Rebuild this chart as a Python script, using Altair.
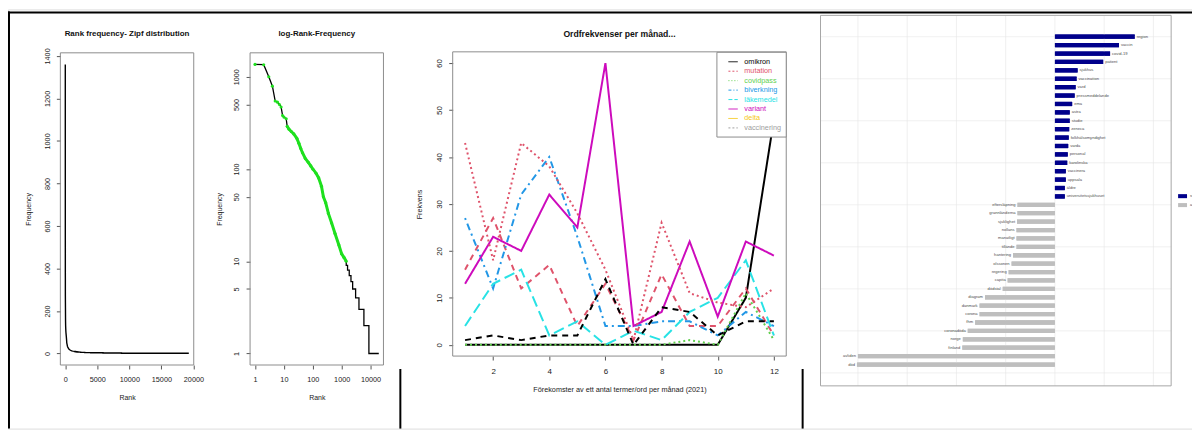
import altair as alt
import pandas as pd

# ---------------- page / layout ----------------
W, H = 1192, 422          # whole view (page minus 8px margin)
FONT = "Liberation Sans"
TXT = "#222222"
TICKC = "#555555"
BOX = "#8c8c8c"

# ---------------- Panel A data (rank / frequency) ----------------
zipf_rank = [1, 2, 3, 4, 5, 6, 7, 8, 9, 10,
             12, 13, 15, 18, 22, 28, 33, 38, 44, 55,
             70, 85, 100, 130, 160, 200, 233, 280, 347, 450,
             588, 800, 1000, 1200, 1440,
             1441, 1600, 1601, 1830, 1831, 2100, 2101, 2400, 2401, 3040,
             3041, 3970, 3971, 5890, 5891, 8770, 8771, 19280]
zipf_freq = [1360, 1350, 1000, 790, 545, 530, 500, 470, 380, 365,
             350, 290, 270, 255, 240, 215, 190, 168, 150, 130,
             118, 108, 100, 90, 80, 65, 50, 43, 33, 26,
             20, 15, 12, 11, 10,
             9, 9, 8, 8, 7, 7, 6, 6, 5, 5,
             4, 4, 3, 3, 2, 2, 1, 1]
a1_xticks = [0, 5000, 10000, 15000, 20000]
a1_yticks = [0, 200, 400, 600, 800, 1000, 1200, 1400]
a2_xticks = [1, 10, 100, 1000, 10000]
a2_yticks = [1, 5, 10, 50, 100, 500, 1000]

# ---------------- Panel B data (word frequency per month) ----------------
months = list(range(1, 13))
series_names = ["omikron", "mutation", "covidpass", "biverkning",
                "läkemedel", "variant", "delta", "vaccinering"]
omikron     = [0, 0, 0, 0, 0, 0, 0, 0, 0, 0, 10, 48]
mutation    = [16, 27, 12, 17, 4, 13, 1, 15, 4, 4, 12, 2]
covidpass   = [0, 0, 0, 0, 0, 0, 0, 0, 1, 0, 11, 1]
biverkning  = [27, 12, 32, 40, 23, 4, 4, 5, 5, 2, 7, 4]
lakemedel   = [4, 13, 16, 2, 5, 0, 3, 1, 7, 10, 18, 2]
variant     = [13, 23, 20, 32, 25, 60, 4, 7, 22, 6, 22, 19]
delta       = [1, 2, 1, 2, 2, 14, 0, 8, 7, 2, 5, 5]
vaccinering = [43, 18, 43, 38, 28, 16, 1, 26, 11, 9, 8, 12]
b_values = [omikron, mutation, covidpass, biverkning, lakemedel, variant, delta, vaccinering]
b_xticks = [2, 4, 6, 8, 10, 12]
b_yticks = [0, 10, 20, 30, 40, 50, 60]

# styles (R matplot default cycling of col 1:6 and lty 1:5)
line_colors = ["#000000", "#DF536B", "#61D04F", "#2297E6", "#28E2E5", "#CD0BBC", "#000000", "#DF536B"]
line_dashes = [[1, 0], [6, 5], [2, 3], [2, 4, 7, 4], [11, 5], [1, 0], [6, 5], [2, 3]]
legend_colors = ["#000000", "#DF536B", "#61D04F", "#2297E6", "#28E2E5", "#CD0BBC", "#F5C710", "#9E9E9E"]
legend_dashes = [[1, 0], [2, 2], [1, 2], [3, 2, 1, 2], [4, 2], [1, 0], [1, 0], [2, 2]]

# ---------------- Panel C data (keyness, chi2) ----------------
pos_words = ["region", "vaccin", "covid-19", "patient", "sjukhus", "vaccination", "vård",
             "pressmeddelande", "ema", "astra", "studie", "zeneca", "folkhälsomyndighet",
             "vårda", "personal", "karolinska", "vaccinera", "uppsala", "äldre",
             "universitetssjukhuset"]
pos_chi2 = [81, 65, 56, 49, 23, 22, 21, 20, 17.5, 15, 15, 14.5, 14, 13.5, 13, 12.5, 11, 11, 10, 10]
neg_words = ["eftersläpning", "grannländerna", "sjuklighet", "nollans", "månatligt", "tillände",
             "hantering", "olssonen", "regering", "capita", "dödstal", "diagram", "danmark",
             "corona", "fhm", "coronadöda", "norge", "finland", "avliden", "död"]
neg_chi2 = [-38, -38, -38.5, -39, -39, -39, -42.5, -44, -47, -48, -53, -71, -76.5,
            -76.5, -81, -88.5, -93.5, -94, -200, -201]
key_groups = ["svenska", "andra"]
c_xticks = [-200, -100, 0, 100]
c_grid_x = [-200, -150, -100, -50, 0, 50, 100]
c_grid_y = [0, 5, 10, 15, 20, 25, 30, 35, 40]

# ---------------- tables ----------------
zipf_df = pd.DataFrame({"rank": zipf_rank, "freq": zipf_freq})
b_df = pd.DataFrame([
    {"month": m, "value": v, "series": s}
    for s, vals in zip(series_names, b_values) for m, v in zip(months, vals)
])
words = pos_words + neg_words
c_df = pd.DataFrame({
    "word": words,
    "chi2": pos_chi2 + neg_chi2,
    "group": [key_groups[0]] * len(pos_words) + [key_groups[1]] * len(neg_words),
    "pos": list(range(len(words), 0, -1)),
})
ONE = pd.DataFrame({"k": [0]})

# ---------------- geometry (view px = page px - 8) ----------------
A1X, A1Y = [52.7, 187.0], [358.0, 43.7]
A2X, A2Y = [243.7, 378.0], [358.0, 43.7]
BX, BY = [447.7, 783.5], [349.0, 42.7]
CX, CY = [818.0, 1171.0], [379.0, 6.0]


def ax_bottom(values, ypx, title, title_x, title_dy, lfs, tfs, lpad, tick=4, fmt=None, color=TXT):
    kw = dict(orient="bottom", offset=ypx - H, values=values, domain=False, grid=False,
              ticks=True, tickSize=tick, tickColor=TICKC, tickWidth=1,
              labelFont=FONT, labelFontSize=lfs, labelColor=color, labelPadding=lpad,
              labelFlush=False, labelOverlap=False, labelAngle=0,
              title=title, titleFont=FONT, titleFontSize=tfs, titleFontWeight="normal",
              titleColor=color, titleX=title_x, titleY=title_dy,
              titleAlign="center", titleBaseline="middle")
    if fmt:
        kw["format"] = fmt
    return alt.Axis(**kw)


def ax_left(values, xpx, title, title_dx, title_y, lfs, tfs, lpad, tick=4, fmt=None):
    kw = dict(orient="left", offset=-xpx, values=values, domain=False, grid=False,
              ticks=True, tickSize=tick, tickColor=TICKC, tickWidth=1,
              labelFont=FONT, labelFontSize=lfs, labelColor=TXT, labelPadding=lpad,
              labelFlush=False, labelOverlap=False, labelAngle=270,
              labelAlign="center", labelBaseline="middle",
              title=title, titleFont=FONT, titleFontSize=tfs, titleFontWeight="normal",
              titleColor=TXT, titleX=title_dx, titleY=title_y, titleAngle=270,
              titleAlign="center", titleBaseline="middle")
    if fmt:
        kw["format"] = fmt
    return alt.Axis(**kw)


def box(xr, yr, color=BOX, fill=None, width=1.0):
    kw = dict(stroke=color, strokeWidth=width)
    if fill:
        kw["fill"] = fill
    else:
        kw["fillOpacity"] = 0
    return alt.Chart(ONE).mark_rect(**kw).encode(
        x=alt.value(xr[0]), x2=alt.value(xr[1]), y=alt.value(yr[1]), y2=alt.value(yr[0]))


def title_text(text, x, y, size, weight="bold"):
    return alt.Chart(pd.DataFrame({"t": [text]})).mark_text(
        font=FONT, fontSize=size, fontWeight=weight, color="#111111",
        align="center", baseline="middle").encode(
        x=alt.value(x), y=alt.value(y), text="t:N")


# ---------------- Panel A1: linear rank-frequency ----------------
a1_x = alt.X("rank:Q", scale=alt.Scale(domain=[-770, 20051], range=A1X, nice=False, zero=False),
             axis=ax_bottom(a1_xticks, A1Y[0], "Rank", (A1X[0] + A1X[1]) / 2, 33, 7.3, 7, 6.5, fmt="d"))
a1_y = alt.Y("freq:Q", scale=alt.Scale(domain=[-54.4, 1414.4], range=A1Y, nice=False, zero=False),
             axis=ax_left(a1_yticks, A1X[0], "Frequency", -31.7, (A1Y[0] + A1Y[1]) / 2, 7.3, 7, 9, fmt="d"))
a1 = alt.layer(
    alt.Chart(zipf_df).mark_line(color="#000000", strokeWidth=1.4).encode(x=a1_x, y=a1_y),
)

# ---------------- Panel A2: log-log ----------------
a2_x = alt.X("rank:Q", scale=alt.Scale(type="log", domain=[0.674, 28000], range=A2X, nice=False),
             axis=ax_bottom(a2_xticks, A2Y[0], "Rank", (A2X[0] + A2X[1]) / 2, 33, 7.3, 7, 6.5, fmt="d"))
a2_y = alt.Y("freq:Q", scale=alt.Scale(type="log", domain=[0.75, 1816], range=A2Y, nice=False),
             axis=ax_left(a2_yticks, A2X[0], "Frequency", -30.7, (A2Y[0] + A2Y[1]) / 2, 7.3, 7, 10, fmt="d"))
GREEN = "#1ee01e"
a2 = alt.layer(
    alt.Chart(zipf_df).mark_line(color="#000000", strokeWidth=1.3).encode(x=a2_x, y=a2_y),
    alt.Chart(zipf_df).transform_filter("datum.rank >= 13 && datum.rank <= 1440")
    .mark_line(color=GREEN, strokeWidth=3).encode(x="rank:Q", y="freq:Q"),
    alt.Chart(zipf_df).transform_filter("datum.rank <= 1440")
    .mark_circle(color=GREEN, size=10, opacity=1).encode(x="rank:Q", y="freq:Q"),
)

# ---------------- Panel B: monthly frequencies ----------------
b_x = alt.X("month:Q", scale=alt.Scale(domain=[0.56, 12.44], range=BX, nice=False, zero=False),
            axis=ax_bottom(b_xticks, BY[0], "Förekomster av ett antal termer/ord per månad (2021)",
                           (BX[0] + BX[1]) / 2, 34, 8, 7.3, 7.5))
b_y = alt.Y("value:Q", scale=alt.Scale(domain=[-2.4, 62.4], range=BY, nice=False, zero=False),
            axis=ax_left(b_yticks, BX[0], "Frekvens", -33.7, (BY[0] + BY[1]) / 2, 8, 7.3, 9.4))
b_lines = alt.Chart(b_df).mark_line(strokeWidth=2).encode(
    x=b_x, y=b_y,
    color=alt.Color("series:N", scale=alt.Scale(domain=series_names, range=line_colors), legend=None),
    strokeDash=alt.StrokeDash("series:N", scale=alt.Scale(domain=series_names, range=line_dashes), legend=None),
)

# legend of panel B (R legend, top right inside the plot)
leg_df = pd.DataFrame({"name": series_names})
leg_y = alt.Y("name:N", scale=alt.Scale(type="point", domain=series_names, range=[52.7, 119.3], padding=0), axis=None)
leg_color = alt.Color("name:N", scale=alt.Scale(domain=series_names, range=legend_colors), legend=None)
b_legend = alt.layer(
    box([713.7, 783.5], [128.5, 43.2], fill="#ffffff"),
    alt.Chart(leg_df).mark_rule(strokeWidth=1).encode(
        x=alt.value(725.3), x2=alt.value(734.7), y=leg_y, color=leg_color,
        strokeDash=alt.StrokeDash("name:N", scale=alt.Scale(domain=series_names, range=legend_dashes), legend=None)),
    alt.Chart(leg_df).mark_text(font=FONT, fontSize=7.3, align="left", baseline="middle").encode(
        x=alt.value(741.3), y="name:N", text="name:N", color="name:N"),
)

# ---------------- Panel C: keyness ----------------
c_x = alt.X("chi2:Q", scale=alt.Scale(domain=[-238, 118], range=CX, nice=False, zero=False),
            axis=ax_bottom(c_xticks, CY[0], "chi2", (CX[0] + CX[1]) / 2, 9.7, 4, 5, 1.4, tick=1.5,
                           color="#4d4d4d"))
c_y = alt.Y("pos:Q", scale=alt.Scale(domain=[-0.95, 41.95], range=CY, nice=False, zero=False), axis=None)
c = alt.layer(
    alt.Chart(c_df).mark_bar(orient="horizontal", size=4.3).encode(
        x=c_x, x2=alt.datum(0), y=c_y,
        color=alt.Color("group:N", scale=alt.Scale(domain=key_groups, range=["#00008B", "#BEBEBE"]),
                        legend=alt.Legend(orient="none", legendX=1178, legendY=183.5, title=None,
                                          symbolType="M-1,-0.45H1V0.45H-1Z", symbolSize=81,
                                          symbolStrokeWidth=0, labelFont=FONT, labelFontSize=4,
                                          labelColor="#4d4d4d", labelOffset=3, rowPadding=2,
                                          padding=0))),
    alt.Chart(pd.DataFrame({"gx": c_grid_x})).mark_rule(color="#e6e6e6", strokeWidth=0.6).encode(
        x=alt.X("gx:Q", axis=None), y=alt.value(CY[1]), y2=alt.value(CY[0])),
    alt.Chart(pd.DataFrame({"gy": c_grid_y})).mark_rule(color="#e6e6e6", strokeWidth=0.6).encode(
        y=alt.Y("gy:Q", axis=None), x=alt.value(CX[0]), x2=alt.value(CX[1])),
    alt.Chart(c_df).mark_bar(orient="horizontal", size=4.3).encode(
        x="chi2:Q", x2=alt.datum(0), y="pos:Q",
        color=alt.Color("group:N", legend=None)),
    alt.Chart(c_df).transform_filter("datum.chi2 > 0").mark_text(
        font=FONT, fontSize=4.1, color="#4d4d4d", align="left", baseline="middle", dx=2).encode(
        x="chi2:Q", y="pos:Q", text="word:N"),
    alt.Chart(c_df).transform_filter("datum.chi2 < 0").mark_text(
        font=FONT, fontSize=4.1, color="#4d4d4d", align="right", baseline="middle", dx=-2).encode(
        x="chi2:Q", y="pos:Q", text="word:N"),
)

# ---------------- frames, titles, page borders ----------------
decor = [
    box(A1X, A1Y), box(A2X, A2Y), box(BX, BY), box(CX, CY, color="#a6a6a6"),
    title_text("Rank frequency- Zipf distribution", (A1X[0] + A1X[1]) / 2, 25, 8),
    title_text("log-Rank-Frequency", (A2X[0] + A2X[1]) / 2, 25, 8),
    title_text("Ordfrekvenser per månad...", (BX[0] + BX[1]) / 2, 25, 8.7),
    alt.Chart(ONE).mark_rule(color="#000000", strokeWidth=2).encode(
        x=alt.value(0), x2=alt.value(W), y=alt.value(3)),
    alt.Chart(ONE).mark_rule(color="#000000", strokeWidth=2).encode(
        x=alt.value(1), y=alt.value(2), y2=alt.value(H)),
    alt.Chart(ONE).mark_rule(color="#000000", strokeWidth=2).encode(
        x=alt.value(395), y=alt.value(362), y2=alt.value(H)),
    alt.Chart(ONE).mark_rule(color="#000000", strokeWidth=2).encode(
        x=alt.value(800), y=alt.value(362), y2=alt.value(H)),
]

chart = alt.layer(a1, a2, b_lines, c, *decor[:4], b_legend, *decor[4:]).resolve_scale(
    x="independent", y="independent", color="independent", strokeDash="independent"
).properties(
    width=W, height=H, autosize=alt.AutoSizeParams(type="none"), padding=0
).configure_view(strokeWidth=0).configure(background="#ffffff")

chart.save("out.html", embed_options={"renderer": "svg", "actions": False})
